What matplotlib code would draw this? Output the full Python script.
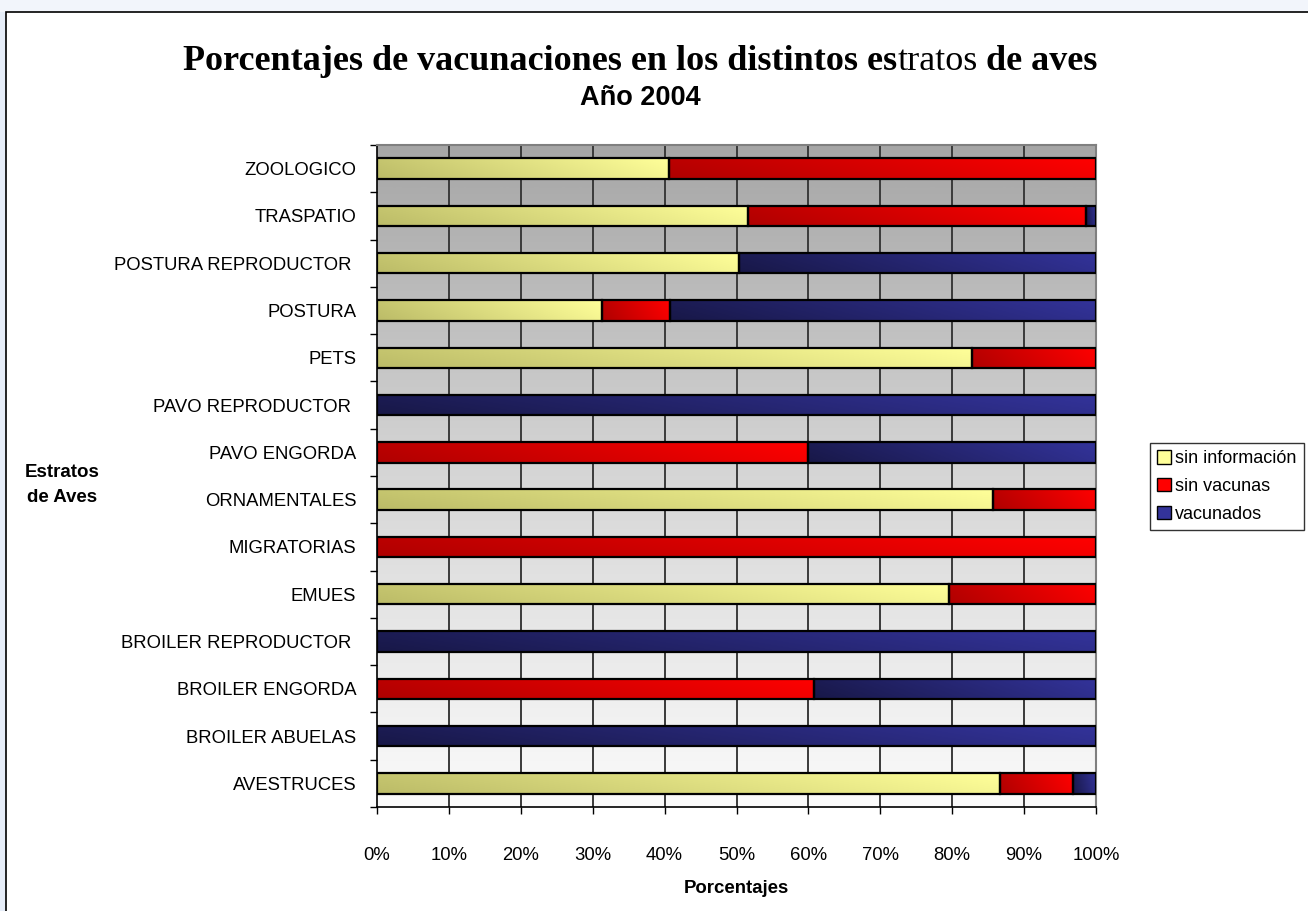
import matplotlib
matplotlib.use('Agg')
import matplotlib.pyplot as plt
import numpy as np
from matplotlib.colors import LinearSegmentedColormap
from matplotlib.patches import Rectangle, Patch

plt.rcParams['font.family'] = ['Liberation Sans', 'DejaVu Sans']

# datos (de abajo hacia arriba)
categorias = ['AVESTRUCES', 'BROILER ABUELAS', 'BROILER ENGORDA', 'BROILER REPRODUCTOR ',
              'EMUES', 'MIGRATORIAS', 'ORNAMENTALES', 'PAVO ENGORDA', 'PAVO REPRODUCTOR ',
              'PETS', 'POSTURA', 'POSTURA REPRODUCTOR ', 'TRASPATIO', 'ZOOLOGICO']
sin_info = [86.6, 0, 0, 0, 79.6, 0, 85.7, 0, 0, 82.8, 31.3, 50.3, 51.6, 40.6]
sin_vac = [10.2, 0, 60.8, 0, 20.4, 100, 14.3, 60.0, 0, 17.2, 9.4, 0, 47.0, 59.4]
vacunados = [3.2, 100, 39.2, 100, 0, 0, 0, 40.0, 100, 0, 59.3, 49.7, 1.4, 0]

series = ['sin información', 'sin vacunas', 'vacunados']
colores = [('#bcbc68', '#ffff99'), ('#b00000', '#ff0000'), ('#181848', '#33339a')]
mapas = [LinearSegmentedColormap.from_list(n, c) for n, c in zip(series, colores)]

W, H = 1308, 911
fig = plt.figure(figsize=(W / 100, H / 100), dpi=100)
fig.patch.set_facecolor('white')

# fondo exterior y marco
fig.patches.append(Rectangle((0, 0), 6 / W, 1, transform=fig.transFigure,
                             facecolor='#e6edf8', edgecolor='none', zorder=0))
fig.patches.append(Rectangle((0, 1 - 12 / H), 1, 12 / H, transform=fig.transFigure,
                             facecolor='#f2f5fb', edgecolor='none', zorder=0))
fig.patches.append(Rectangle((6 / W, -0.01), 1.0, 1 - 12 / H + 0.01, transform=fig.transFigure,
                             facecolor='none', edgecolor='black', lw=1.2, zorder=1))

ax = fig.add_axes([377 / W, 1 - 807 / H, (1096 - 377) / W, (807 - 145) / H])
n = len(categorias)
y = np.arange(n)
alto = 0.43

# fondo degradado del área de trazado
grad = np.linspace(0, 1, 256).reshape(-1, 1)
fondo = LinearSegmentedColormap.from_list('fondo', ['#a6a6a6', '#d6d6d6', '#fbfbfb'])
ax.imshow(grad, extent=[0, 100, -0.5, n - 0.5], origin='upper', cmap=fondo,
          aspect='auto', zorder=0, interpolation='bicubic')

for x in range(10, 100, 10):
    ax.axvline(x, color='#3a3a3a', lw=1.4, zorder=1)

gx, gy = np.meshgrid(np.linspace(0, 1, 64), np.linspace(0, 1, 16))
g2 = np.clip(0.85 * gx + 0.15 * gy, 0, 1)

izq = np.zeros(n)
for vals, cmap in zip([sin_info, sin_vac, vacunados], mapas):
    for i in range(n):
        w = vals[i]
        if w <= 0:
            continue
        ax.imshow(g2, extent=[izq[i], izq[i] + w, y[i] - alto / 2, y[i] + alto / 2],
                  origin='lower', cmap=cmap, aspect='auto', zorder=2, interpolation='bicubic')
        ax.add_patch(Rectangle((izq[i], y[i] - alto / 2), w, alto, fill=False,
                               edgecolor='black', lw=1.6, zorder=3))
    izq += np.array(vals)

ax.set_xlim(0, 100)
ax.set_ylim(-0.5, n - 0.5)

ax.set_xticks(range(0, 101, 10))
ax.set_xticklabels([f'{v}%' for v in range(0, 101, 10)], fontsize=13.3)
ax.set_yticks(y)
ax.set_yticklabels(categorias, fontsize=13.3)
ax.set_yticks(np.arange(-0.5, n, 1), minor=True)
ax.tick_params(axis='y', which='major', length=0, pad=15)
ax.tick_params(axis='y', which='minor', length=5, width=1, direction='out')
ax.tick_params(axis='x', length=5, width=1, direction='out', pad=24)

for s in ['top', 'right']:
    ax.spines[s].set_color('#808080')
    ax.spines[s].set_linewidth(1.5)
for s in ['left', 'bottom']:
    ax.spines[s].set_color('black')
    ax.spines[s].set_linewidth(1.2)

ax.set_xlabel('Porcentajes', fontsize=13.4, fontweight='bold', labelpad=11)

fig.text(62 / W, 1 - 485 / H, 'Estratos\nde Aves', ha='center', va='center',
         fontsize=13.5, fontweight='bold', linespacing=1.55)

# título: fuentes mezcladas, como en el original
partes = [('Porcentajes de vacunaciones en los distintos es', 'bold'),
          ('tratos', 'normal'),
          (' de aves', 'bold')]
renderer = fig.canvas.get_renderer()
x0 = 183
for txt, peso in partes:
    t = fig.text(x0 / W, 1 - 70 / H, txt, ha='left', va='baseline', fontsize=26,
                 fontweight=peso, family='Liberation Serif')
    bb = t.get_window_extent(renderer)
    x0 = bb.x1
centro = (183 + x0) / 2
fig.text(centro / W, 1 - 105 / H, 'Año 2004', ha='center', va='baseline',
         fontsize=19.5, fontweight='bold')

handles = [Patch(facecolor=c[1], edgecolor='black', lw=1) for c in colores]
leg = fig.legend(handles, series, loc='upper left', bbox_to_anchor=(1150 / W, 1 - 443 / H),
                 fontsize=13, frameon=True, fancybox=False, edgecolor='black',
                 handlelength=0.75, handleheight=0.75, handletextpad=0.25,
                 borderpad=0.4, labelspacing=0.6, borderaxespad=0)
leg.get_frame().set_linewidth(1)

fig.savefig('out.png', dpi=100)
